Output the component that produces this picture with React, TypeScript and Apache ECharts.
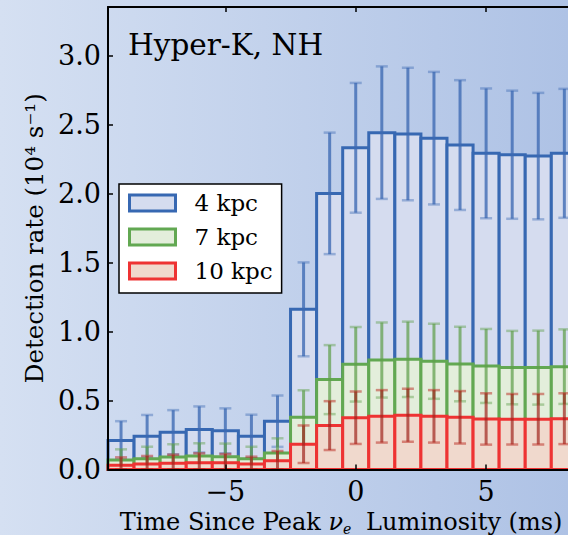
import React, { useEffect, useRef } from 'react';
import * as echarts from 'echarts';

// Bin centres (ms since peak nu_e luminosity), 1 ms wide bins
const binCenters = [-9, -8, -7, -6, -5, -4, -3, -2, -1, 0, 1, 2, 3, 4, 5, 6, 7, 8];

// 4 kpc
const rate4 = [0.21, 0.24, 0.27, 0.29, 0.28, 0.24, 0.35, 1.16, 2.0, 2.33, 2.44, 2.43, 2.4, 2.35, 2.29, 2.28, 2.27, 2.29];
const err4 = [0.14, 0.155, 0.16, 0.167, 0.163, 0.157, 0.186, 0.34, 0.44, 0.47, 0.48, 0.48, 0.48, 0.47, 0.47, 0.464, 0.458, 0.467];

// 7 kpc
const rate7 = [0.069, 0.078, 0.09, 0.098, 0.093, 0.078, 0.12, 0.378, 0.651, 0.762, 0.793, 0.798, 0.784, 0.764, 0.75, 0.738, 0.738, 0.745];
const err7 = [0.077, 0.087, 0.093, 0.092, 0.095, 0.087, 0.106, 0.196, 0.25, 0.27, 0.272, 0.273, 0.272, 0.27, 0.268, 0.266, 0.268, 0.27];

// 10 kpc
const rate10 = [0.03, 0.04, 0.045, 0.049, 0.049, 0.04, 0.064, 0.183, 0.318, 0.375, 0.385, 0.393, 0.385, 0.378, 0.366, 0.364, 0.364, 0.368];
const err10 = [0.058, 0.058, 0.062, 0.068, 0.063, 0.053, 0.07, 0.136, 0.177, 0.19, 0.19, 0.192, 0.19, 0.19, 0.186, 0.183, 0.183, 0.184];

const xTicks = [-5, 0, 5];
const yTicks = [0, 0.5, 1.0, 1.5, 2.0, 2.5, 3.0];
const seriesNames = ['4 kpc', '7 kpc', '10 kpc'];

const FONT = '"DejaVu Serif", serif';

export default function App() {
  const ref = useRef<HTMLDivElement>(null);

  useEffect(() => {
    if (!ref.current) return;
    const chart = echarts.init(ref.current, null, { renderer: 'svg' });

    const styles = [
      { fill: '#d5dcef', stroke: '#3768b2', errLine: 'rgba(60,105,178,0.78)', errCap: 'rgba(60,105,178,0.42)' },
      { fill: '#e3eedb', stroke: '#62a852', errLine: 'rgba(95,160,75,0.72)', errCap: 'rgba(95,160,75,0.45)' },
      { fill: '#f0d9cd', stroke: '#ee3333', errLine: 'rgba(160,35,28,0.7)', errCap: 'rgba(185,40,30,0.5)' },
    ];
    const rates = [rate4, rate7, rate10];
    const errs = [err4, err7, err10];

    const series: any[] = [];
    rates.forEach((vals, k) => {
      const st = styles[k];
      series.push({
        type: 'custom',
        name: seriesNames[k],
        z: 2 + k * 2,
        clip: false,
        itemStyle: { color: st.fill, borderColor: st.stroke },
        data: binCenters.map((c, i) => [c, vals[i]]),
        encode: { x: 0, y: 1 },
        renderItem: (params: any, api: any) => {
          const c = api.value(0);
          const v = api.value(1);
          const p0 = api.coord([c - 0.5, v]);
          const p1 = api.coord([c + 0.5, 0]);
          return {
            type: 'rect',
            shape: { x: p0[0], y: p0[1], width: p1[0] - p0[0], height: p1[1] - p0[1] },
            style: { fill: st.fill, stroke: st.stroke, lineWidth: 3 },
          };
        },
      });
      series.push({
        type: 'custom',
        name: seriesNames[k] + ' err',
        z: 3 + k * 2,
        clip: false,
        data: binCenters.map((c, i) => [c, vals[i], errs[k][i]]),
        encode: { x: 0, y: 1 },
        renderItem: (params: any, api: any) => {
          const c = api.value(0);
          const v = api.value(1);
          const e = api.value(2);
          const top = api.coord([c, v + e]);
          const bot = api.coord([c, Math.max(0, v - e)]);
          const hw = 6;
          return {
            type: 'group',
            children: [
              { type: 'line', shape: { x1: top[0], y1: top[1], x2: bot[0], y2: bot[1] }, style: { stroke: st.errLine, lineWidth: 3 } },
              { type: 'line', shape: { x1: top[0] - hw, y1: top[1], x2: top[0] + hw, y2: top[1] }, style: { stroke: st.errCap, lineWidth: 2.5 } },
              { type: 'line', shape: { x1: bot[0] - hw, y1: bot[1], x2: bot[0] + hw, y2: bot[1] }, style: { stroke: st.errCap, lineWidth: 2.5 } },
            ],
          };
        },
      });
    });

    const option: any = {
      animation: false,
      backgroundColor: new echarts.graphic.LinearGradient(0, 0, 1, 0, [
        { offset: 0, color: '#d5e0f2' },
        { offset: 1, color: '#aec2e5' },
      ]),
      grid: { left: 108, right: 0, top: 7, bottom: 65.5, containLabel: false, outerBoundsMode: 'none' },
      xAxis: [
        {
          type: 'value',
          position: 'bottom',
          min: -9.5,
          max: 8.14,
          z: 10,
          splitLine: { show: false },
          axisLine: { show: true, onZero: false, lineStyle: { color: '#000', width: 2 } },
          axisTick: { show: true, inside: true, length: 5, customValues: xTicks, lineStyle: { color: '#000', width: 1.5 } },
          axisLabel: {
            customValues: xTicks,
            fontFamily: FONT,
            fontSize: 27,
            color: '#000',
            margin: 8,
            formatter: (v: number) => (v < 0 ? '\u2212' + Math.abs(v) : String(v)),
          },
          name: 'Time Since Peak {nu|\u03bd}{sub|e} Luminosity (ms)',
          nameLocation: 'middle',
          nameGap: 38,
          nameTextStyle: {
            fontFamily: FONT,
            fontSize: 24,
            color: '#000',
            padding: [0, 0, 0, 6],
            rich: {
              nu: { fontFamily: FONT, fontSize: 24, fontStyle: 'italic', color: '#000' },
              sub: { fontFamily: FONT, fontSize: 14, fontStyle: 'italic', color: '#000', padding: [14, 7, 0, 0] },
            },
          },
        },
        {
          type: 'value',
          position: 'top',
          min: -9.5,
          max: 8.14,
          z: 10,
          splitLine: { show: false },
          axisLine: { show: true, onZero: false, lineStyle: { color: '#000', width: 2 } },
          axisTick: { show: true, inside: true, length: 5, customValues: xTicks, lineStyle: { color: '#000', width: 1.5 } },
          axisLabel: { show: false },
        },
      ],
      yAxis: {
        type: 'value',
        min: 0,
        max: 3.35,
        z: 10,
        splitLine: { show: false },
        axisLine: { show: true, onZero: false, lineStyle: { color: '#000', width: 2 } },
        axisTick: { show: true, inside: true, length: 5, customValues: yTicks, lineStyle: { color: '#000', width: 1.5 } },
        axisLabel: {
          customValues: yTicks,
          fontFamily: FONT,
          fontSize: 27,
          color: '#000',
          margin: 7,
          formatter: (v: number) => v.toFixed(1),
        },
        name: 'Detection rate (10\u2074 s\u207b\u00b9)',
        nameLocation: 'middle',
        nameGap: 58,
        nameTextStyle: { fontFamily: FONT, fontSize: 24.5, color: '#000' },
      },
      legend: {
        orient: 'vertical',
        left: 119,
        top: 184,
        backgroundColor: '#ffffff',
        borderColor: '#000',
        borderWidth: 1.5,
        borderRadius: 0,
        padding: [6, 9, 9, 9],
        itemWidth: 46,
        itemHeight: 16,
        itemGap: 8,
        selectedMode: false,
        textStyle: { fontFamily: FONT, fontSize: 23, color: '#000', lineHeight: 26, padding: [0, 0, 0, 14] },
        data: seriesNames.map((n, k) => ({
          name: n,
          icon: 'rect',
          itemStyle: { color: styles[k].fill, borderColor: styles[k].stroke, borderWidth: 3 },
        })),
      },
      graphic: [
        {
          type: 'text',
          left: 128,
          top: 30,
          z: 20,
          style: { text: 'Hyper-K, NH', font: '29.5px "DejaVu Serif", serif', fill: '#000' },
        },
      ],
      series,
    };

    chart.setOption(option);
    return () => chart.dispose();
  }, []);

  return <div ref={ref} style={{ position: 'fixed', left: 0, top: 0, width: 568, height: 535 }} />;
}
